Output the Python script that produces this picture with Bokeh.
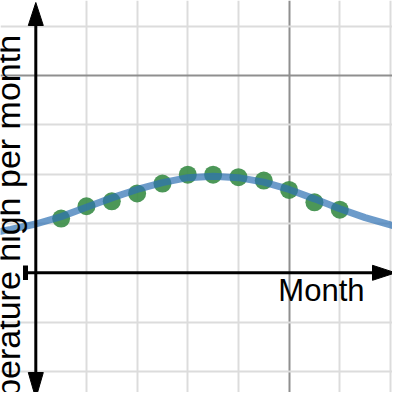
import math
from bokeh.plotting import figure
from bokeh.models import Range1d, Grid, FixedTicker
from bokeh.core.properties import value
from bokeh.embed import file_html
from bokeh.resources import INLINE

# ---- data ----
months = [1, 2, 3, 4, 5, 6, 7, 8, 9, 10, 11, 12]
high_temp = [11.0, 13.5, 14.5, 16.1, 18.1, 19.9, 19.9, 19.4, 18.7, 16.8, 14.3, 12.8]

# fitted (regression) curve
fit_month = [-1.5, -1, 0, 1, 2, 3, 4, 5, 6, 7, 8, 9, 10, 11, 12, 13, 14, 14.5]
fit_temp = [8.3, 8.8, 9.9, 11.4, 13.3, 15.2, 16.9, 18.3, 19.3, 19.6, 19.3, 18.4,
            16.9, 15.0, 13.0, 11.2, 9.7, 9.0]

x_major_ticks = [10]
x_minor_ticks = [2, 4, 6, 8, 12, 14]
y_major_ticks = [40]
y_minor_ticks = [-20, -10, 10, 20, 30, 50]

x_label = "Month"
y_label = "Temperature high per month"

# ---- pixel geometry of the 400x400 reference ----
X0_PX = 35.3          # where month 0 sits
PX_PER_MONTH = 25.33
Y0_PX = 272.3         # where value 0 sits
PX_PER_UNIT = 4.93
W = 392               # canvas size (fits the window with its 8px margin)


def xd(px):
    return (px - X0_PX) / PX_PER_MONTH


def yd(py):
    return (Y0_PX - py) / PX_PER_UNIT


p = figure(width=W, height=W,
           x_range=Range1d(xd(0), xd(W)), y_range=Range1d(yd(W), yd(0)),
           x_axis_type=None, y_axis_type=None,
           toolbar_location=None, output_backend="svg",
           min_border=0, outline_line_color=None,
           background_fill_color="white", border_fill_color="white")

xg = Grid(dimension=0, ticker=FixedTicker(ticks=x_major_ticks, minor_ticks=x_minor_ticks),
          grid_line_color="#8f8f8f", grid_line_width=2,
          minor_grid_line_color="#dcdcdc", minor_grid_line_width=2)
yg = Grid(dimension=1, ticker=FixedTicker(ticks=y_major_ticks, minor_ticks=y_minor_ticks),
          grid_line_color="#8f8f8f", grid_line_width=2,
          minor_grid_line_color="#dcdcdc", minor_grid_line_width=2)
p.add_layout(xg)
p.add_layout(yg)

# data points and fitted curve
p.scatter(months, high_temp, size=18, fill_color="#388c46", fill_alpha=0.9, line_color=None)
p.line(fit_month, fit_temp, line_color="#2d70b3", line_alpha=0.7, line_width=7)

# axes with arrows
p.segment(x0=[0, xd(25)], y0=[yd(372), 0], x1=[0, xd(372)], y1=[yd(25), 0],
          line_color="black", line_width=3)
p.quad(left=[xd(22.5)], right=[xd(27.5)], top=[yd(265)], bottom=[yd(279.5)],
       fill_color="black", line_color=None)
hw = 7.5
p.patches(
    xs=[[0, xd(X0_PX - hw), xd(X0_PX + hw)],
        [0, xd(X0_PX - hw), xd(X0_PX + hw)],
        [xd(395), xd(372), xd(372)]],
    ys=[[yd(2), yd(25), yd(25)],
        [yd(398), yd(372), yd(372)],
        [0, yd(Y0_PX - hw), yd(Y0_PX + hw)]],
    fill_color="black", line_color="black", line_width=1)

# labels
p.text(x=[xd(7)], y=[yd(248)], text=[y_label], angle=math.pi / 2,
       text_align="center", text_baseline="alphabetic",
       text_font=value("Liberation Sans"), text_font_size="34px",
       text_color="black")
p.text(x=[xd(364)], y=[yd(290)], text=[x_label],
       text_align="right", text_baseline="alphabetic",
       text_font=value("Liberation Sans"), text_font_size="31px",
       text_color="black")

html = file_html(p, INLINE)
open("out.html", "w").write(html)
